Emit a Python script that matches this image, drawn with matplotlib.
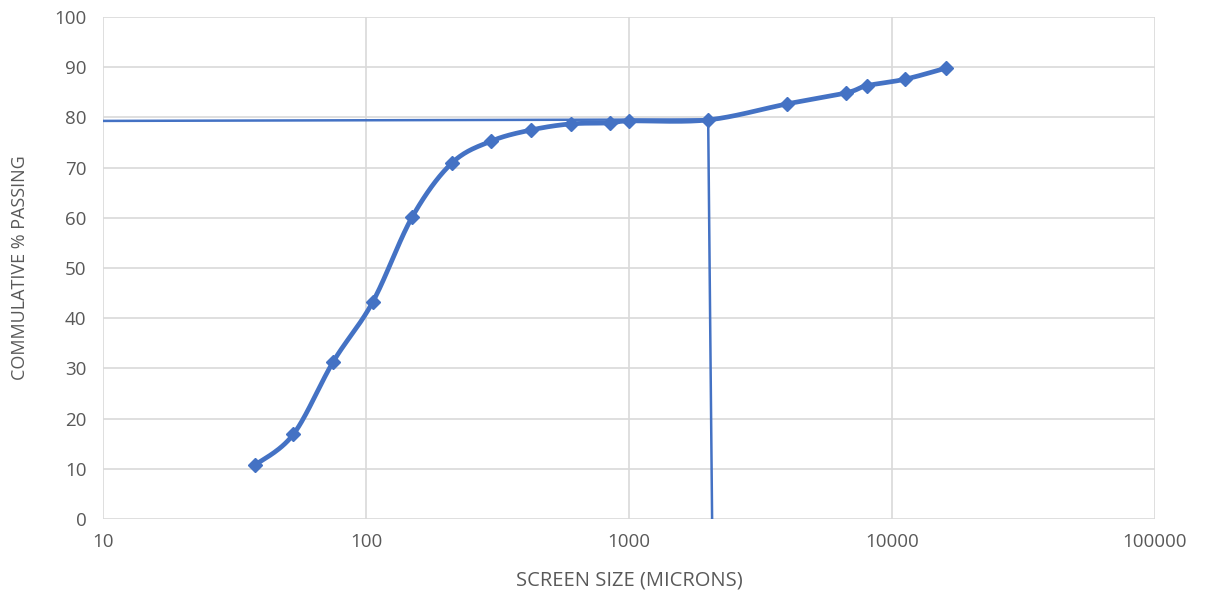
import numpy as np
import matplotlib
matplotlib.use("Agg")
import matplotlib.pyplot as plt

# Data
screen_size = [38, 53, 75, 106, 150, 212, 300, 425, 600, 850, 1000, 2000,
               4000, 6700, 8000, 11200, 16000]
cum_passing = [10.8, 16.9, 31.3, 43.2, 60.2, 70.9, 75.3, 77.5, 78.7, 78.9,
               79.3, 79.5, 82.7, 84.9, 86.3, 87.6, 89.8]
guide_x = [10, 2000, 2070]
guide_y = [79.3, 79.6, 0]

x_ticks = [10, 100, 1000, 10000, 100000]
y_ticks = list(range(0, 101, 10))

BLUE = "#4472C4"
GRAY = "#595959"
GRID = "#D9D9D9"


def smooth(xs, ys, n=30):
    """Catmull-Rom style smoothing in log-x space (like Excel smoothed lines)."""
    u = np.log10(np.asarray(xs, float))
    v = np.asarray(ys, float)
    P = np.column_stack([u, v])
    P = np.vstack([P[0], P, P[-1]])
    out = []
    t = np.linspace(0, 1, n)[:, None]
    for i in range(1, len(P) - 2):
        p0, p1, p2, p3 = P[i - 1], P[i], P[i + 1], P[i + 2]
        c1 = p1 + (p2 - p0) / 6
        c2 = p2 - (p3 - p1) / 6
        seg = ((1 - t) ** 3) * p1 + 3 * ((1 - t) ** 2) * t * c1 + 3 * (1 - t) * t ** 2 * c2 + t ** 3 * p2
        out.append(seg if i == 1 else seg[1:])
    out = np.vstack(out)
    return 10 ** out[:, 0], out[:, 1]


fig = plt.figure(figsize=(12.08, 5.97), dpi=100)
ax = fig.add_axes([103 / 1208, 1 - 519 / 597, 1052 / 1208, 502 / 597])
ax.set_xscale("log")
ax.set_xlim(10, 100000)
ax.set_ylim(0, 100)

sx, sy = smooth(screen_size, cum_passing)
ax.plot(sx, sy, color=BLUE, lw=3.4, solid_capstyle="round", zorder=3)
ax.plot(screen_size, cum_passing, linestyle="none", marker="D", ms=7.5,
        color=BLUE, zorder=4)
ax.plot(guide_x, guide_y, color=BLUE, lw=1.8, zorder=3)

ax.set_xticks(x_ticks)
ax.set_xticklabels([str(v) for v in x_ticks])
ax.xaxis.set_minor_locator(matplotlib.ticker.NullLocator())
ax.set_yticks(y_ticks)
for s in ax.spines.values():
    s.set_visible(False)
ax.grid(True, which="major", color=GRID, lw=1.2)
ax.set_axisbelow(True)
ax.tick_params(length=0, labelsize=13.5, labelcolor=GRAY, pad=10)
ax.tick_params(axis="y", pad=12)
for lab in ax.get_xticklabels() + ax.get_yticklabels():
    lab.set_fontfamily("Open Sans")

ax.set_xlabel("SCREEN SIZE (MICRONS)", fontsize=14.5, color=GRAY,
              fontfamily="Open Sans", labelpad=14)
ax.set_ylabel("COMMULATIVE % PASSING", fontsize=13, color=GRAY,
              fontfamily="Open Sans", labelpad=18)

fig.savefig("out.png", dpi=100)
